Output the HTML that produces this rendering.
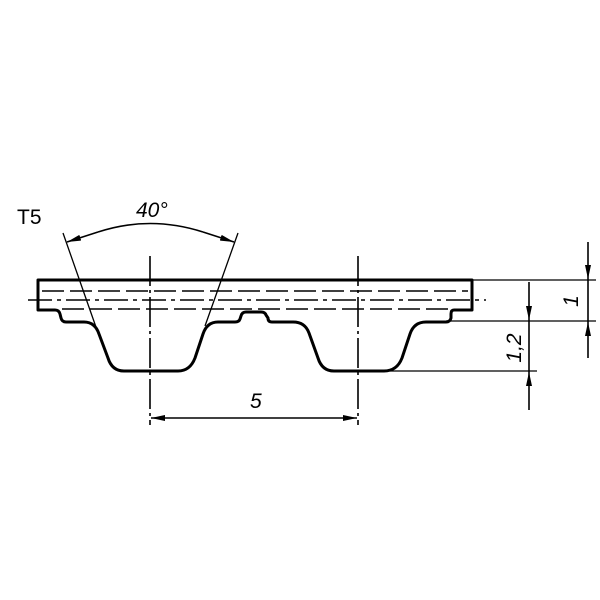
<!DOCTYPE html>
<html><head><style>body{margin:0;background:#fff}svg{display:block}</style></head><body>
<svg width="600" height="600" viewBox="0 0 600 600" xmlns="http://www.w3.org/2000/svg" font-family="Liberation Sans, sans-serif">
<defs>
<marker id="a" viewBox="0 0 14 6" refX="14" refY="3" markerWidth="14" markerHeight="6" markerUnits="userSpaceOnUse" orient="auto"><path d="M0,0L14,3L0,6z" fill="#000"/></marker>
</defs>
<rect width="600" height="600" fill="#fff"/>
<g fill="none" stroke="#000">
<path stroke-width="3" stroke-linejoin="round" d="M38,280 H472 V310 H454 Q451,310 451,314 V318 Q450,322 446,322 H426 Q414,322 410,334 L402,358 Q397,371 384,371 H334 Q322,371 318,358 L309,333 Q305,322 293,322 H272 Q268,322 268,318 L266,315 Q265,312 261,312 H246 Q242,312 241,316 L240,319 Q239,322 235,322 H218 Q207,322 203,334 L195,358 Q190,371 178,371 H124 Q112,371 108,358 L99,334 Q95,322 84,322 H66 Q62,322 61,318 L60,314 Q59,310 55,310 H38 Z"/>
<line x1="42" y1="291" x2="468" y2="291" stroke-width="1.6" stroke-dasharray="22,6"/>
<line x1="28" y1="300" x2="486" y2="300" stroke-width="1.6" stroke-dasharray="24,5,4,5"/>
<line x1="62" y1="309" x2="450" y2="309" stroke-width="1.6" stroke-dasharray="22,6"/>
<line x1="150" y1="256" x2="150" y2="425" stroke-width="1.6" stroke-dasharray="30,4,3,4"/>
<line x1="358" y1="256" x2="358" y2="425" stroke-width="1.6" stroke-dasharray="30,4,3,4"/>
<line x1="63" y1="233" x2="97" y2="330" stroke-width="1.3"/>
<line x1="238" y1="233" x2="205" y2="326" stroke-width="1.3"/>
<path d="M98,232 Q150,215 203,232" stroke-width="1.6"/>
<line x1="98" y1="232" x2="67" y2="242" stroke-width="1.6" marker-end="url(#a)"/>
<line x1="203" y1="232" x2="234" y2="242" stroke-width="1.6" marker-end="url(#a)"/>
<line x1="180" y1="418" x2="151" y2="418" stroke-width="1.6" marker-end="url(#a)"/>
<line x1="180" y1="418" x2="328" y2="418" stroke-width="1.6"/>
<line x1="328" y1="418" x2="357" y2="418" stroke-width="1.6" marker-end="url(#a)"/>
<line x1="472" y1="280" x2="596" y2="280" stroke-width="1.3"/>
<line x1="446" y1="321" x2="596" y2="321" stroke-width="1.3"/>
<line x1="390" y1="371" x2="537" y2="371" stroke-width="1.3"/>
<line x1="588" y1="242" x2="588" y2="279" stroke-width="1.6" marker-end="url(#a)"/>
<line x1="588" y1="279" x2="588" y2="322" stroke-width="1.6"/>
<line x1="588" y1="358" x2="588" y2="322" stroke-width="1.6" marker-end="url(#a)"/>
<line x1="529" y1="282" x2="529" y2="320" stroke-width="1.6" marker-end="url(#a)"/>
<line x1="529" y1="320" x2="529" y2="372" stroke-width="1.6"/>
<line x1="529" y1="410" x2="529" y2="372" stroke-width="1.6" marker-end="url(#a)"/>
</g>
<g fill="#000" font-size="21">
<text x="17" y="224">T5</text>
<text x="136" y="217" font-style="italic">40°</text>
<text x="250" y="408" font-style="italic">5</text>
<text transform="translate(578,301) rotate(-90)" font-style="italic" text-anchor="middle">1</text>
<text transform="translate(521,348) rotate(-90)" font-style="italic" text-anchor="middle">1,2</text>
</g>
</svg>
</body></html>
